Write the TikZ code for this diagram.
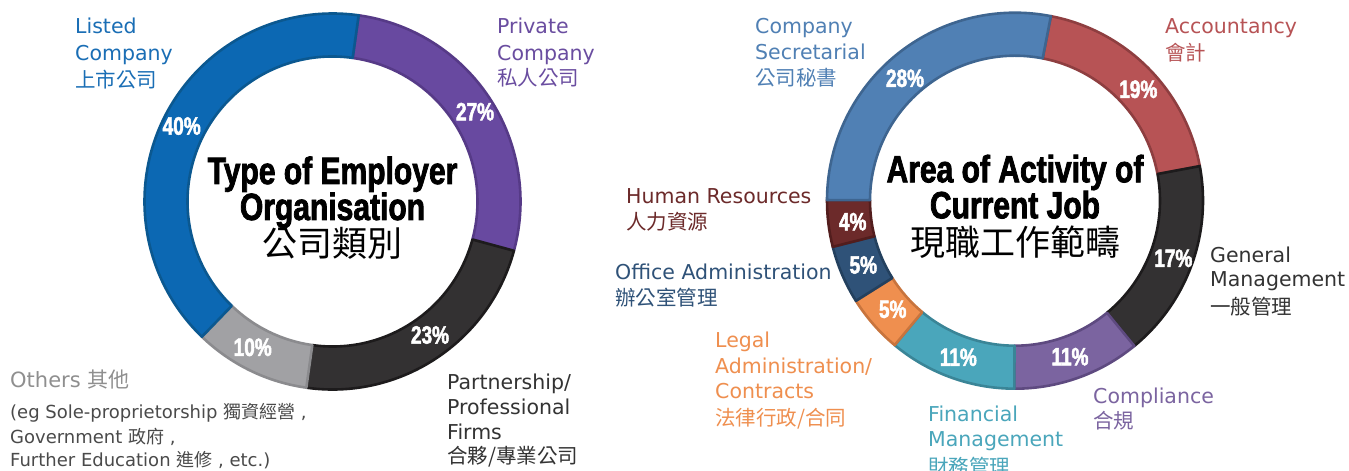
\documentclass[tikz,border=0pt]{standalone}
\usepackage{fontspec}
\setmainfont{DejaVu Sans}
\newfontfamily\cjk{Noto Sans CJK TC}
\newfontfamily\cond[FakeStretch=0.76,FakeBold=2]{Liberation Sans Bold}
\newfontfamily\condt[FakeStretch=0.79,FakeBold=2]{Liberation Sans Bold}
\definecolor{lblue}{HTML}{0C68B3}\definecolor{lbluee}{HTML}{0B5890}
\definecolor{lpurp}{HTML}{6849A0}\definecolor{lpurpe}{HTML}{563A87}
\definecolor{dark}{HTML}{333132}\definecolor{darke}{HTML}{1D1B1C}
\definecolor{lgrey}{HTML}{A1A1A4}\definecolor{lgreye}{HTML}{8B8B8E}
\definecolor{rblue}{HTML}{5080B4}\definecolor{rbluee}{HTML}{3E6590}
\definecolor{rred}{HTML}{B75355}\definecolor{rrede}{HTML}{8E3E40}
\definecolor{rpurp}{HTML}{7B64A0}\definecolor{rpurpe}{HTML}{5E4A80}
\definecolor{rteal}{HTML}{4AA6BB}\definecolor{rteale}{HTML}{3A8597}
\definecolor{rorange}{HTML}{EF8F4F}\definecolor{rorangee}{HTML}{C8743D}
\definecolor{rnavy}{HTML}{2F5278}\definecolor{rnavye}{HTML}{23405E}
\definecolor{rhr}{HTML}{6C2A2A}\definecolor{rhre}{HTML}{521D1D}
\definecolor{txblue}{HTML}{1A6EB5}\definecolor{txpurp}{HTML}{6A4DA0}
\definecolor{txgrey}{HTML}{8F8F8F}\definecolor{txdgrey}{HTML}{4A4A4A}
\definecolor{txdark}{HTML}{333333}
\newcommand\dseg[4]{%
  \filldraw[fill=#3, draw=#4, line width=2.6pt, line join=round]
    (#1:188pt) arc[start angle=#1, end angle=#2, radius=188pt]
    -- (#2:145pt) arc[start angle=#2, end angle=#1, radius=145pt] -- cycle;}
\tikzset{
  lbl/.style={anchor=base west, inner sep=0pt, font=\fontsize{20.5}{24}\selectfont},
  cjkl/.style={anchor=base west, inner sep=0pt, font=\cjk\fontsize{20.5}{24}\selectfont},
  sml/.style={anchor=base west, inner sep=0pt, font=\fontsize{18}{22}\selectfont, text=txdgrey},
  pct/.style={text=white, inner sep=0pt, font=\cond\fontsize{25}{25}\selectfont},
  ttl/.style={anchor=base, inner sep=0pt, font=\condt\fontsize{38}{38}\selectfont, text=black},
  cttl/.style={anchor=center, inner sep=0pt, font=\cjk\fontsize{35}{35}\selectfont, text=black}
}
\begin{document}
\begin{tikzpicture}[x=1pt,y=1pt]
\useasboundingbox (0,0) rectangle (1349,471);
\fill[white] (0,0) rectangle (1349,471);
% ---------- left donut ----------
\begin{scope}[shift={(332.5,269.5)}]
  \dseg{82}{-15.2}{lpurp}{lpurpe}
  \dseg{-15.2}{-98}{dark}{darke}
  \dseg{-98}{-134}{lgrey}{lgreye}
  \dseg{226}{82}{lblue}{lbluee}
\end{scope}
\node[pct] (p40) at (181.7,345) {40\%};
\node[pct] (p27) at (475,359.3) {27\%};
\node[pct] (p23) at (430,136) {23\%};
\node[pct] (p10) at (252.7,123.7) {10\%};
\node[ttl] (t1a) at (332.5,287) {Type of Employer};
\node[ttl] (t1b) at (332.5,251) {Organisation};
\node[cttl] (t1c) at (332.5,227.7) {公司類別};
% left labels
\node[lbl, text=txblue] (lc1) at (75,437.5) {Listed};
\node[lbl, text=txblue] (lc2) at (75,410.5) {Company};
\node[cjkl, text=txblue] (lc3) at (75,383.5) {上市公司};
\node[lbl, text=txpurp] (pc1) at (497,437.5) {Private};
\node[lbl, text=txpurp] (pc2) at (497,410.5) {Company};
\node[cjkl, text=txpurp] (pc3) at (497,385) {私人公司};
\node[anchor=base west, inner sep=0pt, text=txgrey, font=\fontsize{21}{24}\selectfont] (ot1) at (10,83.5) {Others {\cjk 其他}};
\node[sml] (ot2) at (10,52.7) {(eg Sole-proprietorship {\cjk 獨資經營} ,};
\node[sml] (ot3) at (10,27.7) {Government {\cjk 政府} ,};
\node[sml] (ot4) at (10,5) {Further Education {\cjk 進修} , etc.)};
\node[lbl, text=txdark] (pf1) at (447,81.7) {Partnership/};
\node[lbl, text=txdark] (pf2) at (447,56) {Professional};
\node[lbl, text=txdark] (pf3) at (447,31.7) {Firms};
\node[cjkl, text=txdark] (pf4) at (447,7.6) {合夥/專業公司};
% ---------- right donut ----------
\begin{scope}[shift={(1015,270.3)}]
  \dseg{79}{10.6}{rred}{rrede}
  \dseg{10.6}{-50.6}{dark}{darke}
  \dseg{-50.6}{-90.2}{rpurp}{rpurpe}
  \dseg{-90.2}{-129.8}{rteal}{rteale}
  \dseg{-129.8}{-147.8}{rorange}{rorangee}
  \dseg{-147.8}{-165.8}{rnavy}{rnavye}
  \dseg{-165.8}{-180.2}{rhr}{rhre}
  \dseg{179.8}{79}{rblue}{rbluee}
\end{scope}
\node[pct] (q28) at (905,392.7) {28\%};
\node[pct] (q19) at (1138.3,381.7) {19\%};
\node[pct] (q17) at (1173.3,212.7) {17\%};
\node[pct] (q11a) at (1070,114.3) {11\%};
\node[pct] (q11b) at (958.3,113.7) {11\%};
\node[pct] (q5a) at (892.7,161.7) {5\%};
\node[pct] (q5b) at (863.3,206) {5\%};
\node[pct] (q4) at (852.7,249.3) {4\%};
\node[ttl] (t2a) at (1015,288.7) {Area of Activity of};
\node[ttl] (t2b) at (1015,252.7) {Current Job};
\node[cttl] (t2c) at (1015,229.3) {現職工作範疇};
% right labels
\node[lbl, text=rblue] (cs1) at (755,437.7) {Company};
\node[lbl, text=rblue] (cs2) at (755,411) {Secretarial};
\node[cjkl, text=rblue] (cs3) at (755,385) {公司秘書};
\node[lbl, text=rred] (ac1) at (1165,437) {Accountancy};
\node[cjkl, text=rred] (ac2) at (1165,410) {會計};
\node[lbl, text=rhr] (hr1) at (626,267) {Human Resources};
\node[cjkl, text=rhr] (hr2) at (626,241.8) {人力資源};
\node[lbl, text=rnavy] (oa1) at (615,191) {Office Administration};
\node[cjkl, text=rnavy] (oa2) at (615,165.1) {辦公室管理};
\node[lbl, text=rorange] (la1) at (715,123.7) {Legal};
\node[lbl, text=rorange] (la2) at (715,97.7) {Administration/};
\node[lbl, text=rorange] (la3) at (715,72.7) {Contracts};
\node[cjkl, text=rorange] (la4) at (715,45.1) {法律行政/合同};
\node[lbl, text=rteal] (fm1) at (928,49.3) {Financial};
\node[lbl, text=rteal] (fm2) at (928,24.3) {Management};
\node[cjkl, text=rteal] (fm3) at (928,-3.3) {財務管理};
\node[lbl, text=txdark] (gm1) at (1210,208.7) {General};
\node[lbl, text=txdark] (gm2) at (1210,184.3) {Management};
\node[cjkl, text=txdark] (gm3) at (1210,156.8) {一般管理};
\node[lbl, text=rpurp] (cp1) at (1093,67.7) {Compliance};
\node[cjkl, text=rpurp] (cp2) at (1093,42.5) {合規};
\end{tikzpicture}
\end{document}
